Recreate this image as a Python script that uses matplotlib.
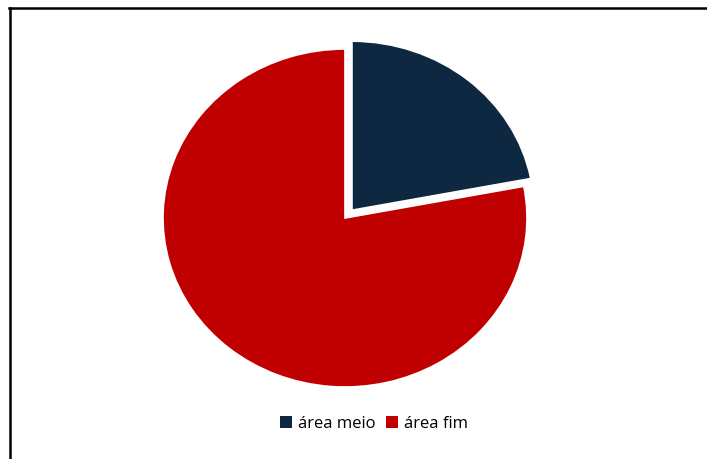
"""Pie chart: área meio vs área fim."""

import matplotlib.pyplot as plt
from matplotlib.lines import Line2D
from matplotlib.patches import Patch

plt.rcParams['font.family'] = ['Open Sans', 'DejaVu Sans']

labels = ['área meio', 'área fim']
values = [22, 78]
colors = ['#0E2841', '#C00000']
explode = [0.06, 0.0]

W, H = 707, 459
fig = plt.figure(figsize=(W / 100, H / 100), dpi=100)

# pie centre (345, 218) px from top, radii 182 x 169 px -> slightly squashed
cx, cy = 345, H - 218
rx, ry = 182, 169
lim = 1.1
ax = fig.add_axes([(cx - rx * lim) / W, (cy - ry * lim) / H,
                   2 * rx * lim / W, 2 * ry * lim / H])

wedges, _ = ax.pie(values, colors=colors, explode=explode, startangle=90,
                   counterclock=False,
                   wedgeprops=dict(edgecolor='white', linewidth=1.2))
ax.set_xlim(-lim, lim)
ax.set_ylim(-lim, lim)
ax.set_aspect('auto')
ax.axis('off')

handles = [Patch(facecolor=c, edgecolor='none') for c in colors]
fig.legend(handles, labels, loc='center', bbox_to_anchor=(374 / W, 35 / H),
           ncol=2, frameon=False, fontsize=12, handlelength=0.75,
           handleheight=0.75, handletextpad=0.35, columnspacing=0.6)

# outer frame (only left and top edges show in the crop)
fig.add_artist(Line2D([10 / W, 10 / W], [0, 1 - 8 / H], color='black',
                      linewidth=1.8, transform=fig.transFigure))
fig.add_artist(Line2D([9 / W, 1], [1 - 8 / H, 1 - 8 / H], color='black',
                      linewidth=1.8, transform=fig.transFigure))

fig.savefig('out.png', dpi=100, facecolor='white')
